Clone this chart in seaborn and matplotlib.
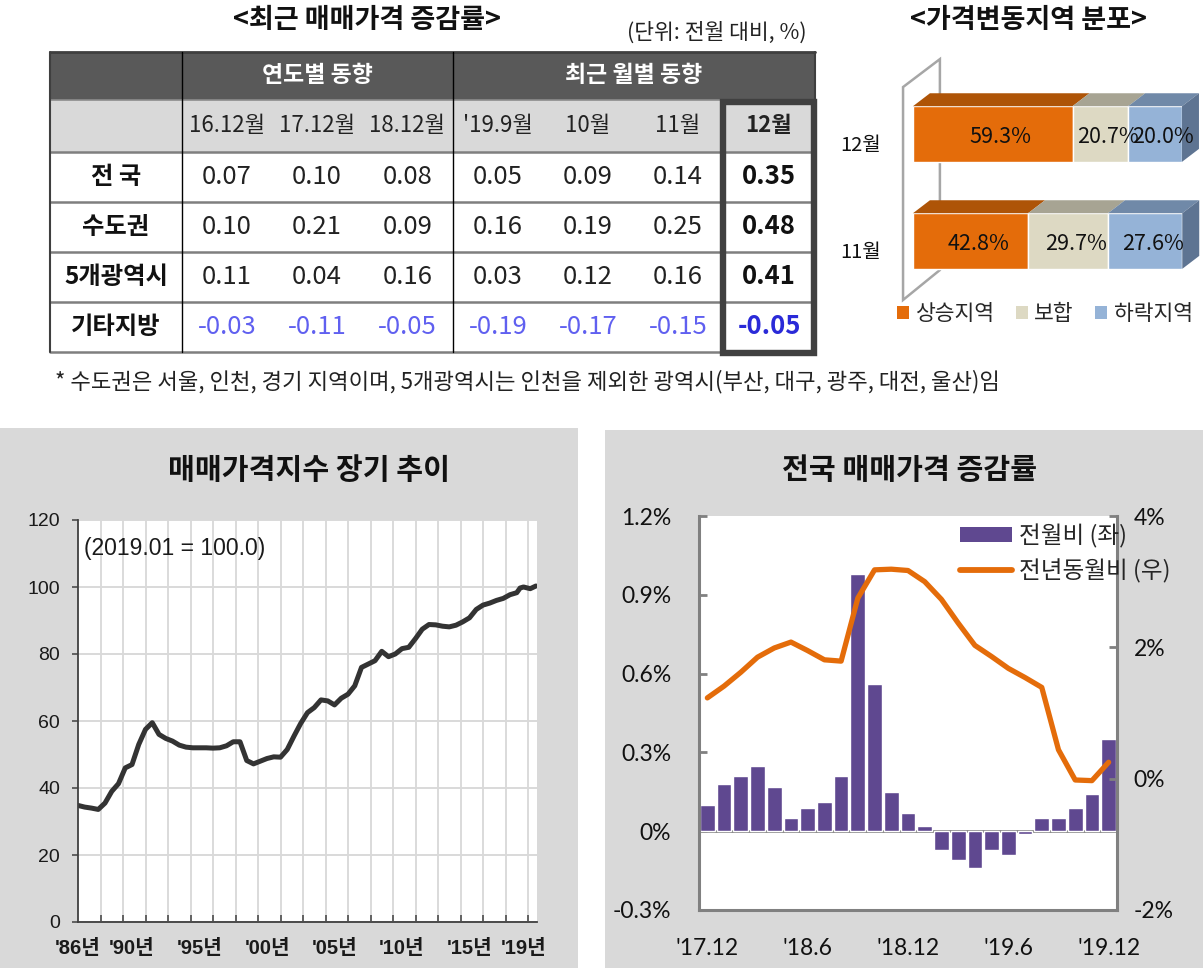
import numpy as np
import pandas as pd
import matplotlib
matplotlib.use("Agg")
import matplotlib.pyplot as plt
from matplotlib.patches import Rectangle, Polygon, Patch
from matplotlib.lines import Line2D
import seaborn as sns

# ---------------- data ----------------
table_title = "<최근 매매가격 증감률>"
table_unit = "(단위: 전월 대비, %)"
table_groups = ["연도별 동향", "최근 월별 동향"]
table_periods = ["16.12월", "17.12월", "18.12월", "'19.9월", "10월", "11월", "12월"]
table_regions = ["전 국", "수도권", "5개광역시", "기타지방"]
rate_national = [0.07, 0.10, 0.08, 0.05, 0.09, 0.14, 0.35]
rate_capital = [0.10, 0.21, 0.09, 0.16, 0.19, 0.25, 0.48]
rate_metro = [0.11, 0.04, 0.16, 0.03, 0.12, 0.16, 0.41]
rate_other = [-0.03, -0.11, -0.05, -0.19, -0.17, -0.15, -0.05]
table_note = "* 수도권은 서울, 인천, 경기 지역이며, 5개광역시는 인천을 제외한 광역시(부산, 대구, 광주, 대전, 울산)임"

dist_title = "<가격변동지역 분포>"
dist_months = ["11월", "12월"]
dist_rise = [42.8, 59.3]
dist_flat = [29.7, 20.7]
dist_fall = [27.6, 20.0]
dist_names = ["상승지역", "보합", "하락지역"]

index_title = "매매가격지수 장기 추이"
index_note = "(2019.01 = 100.0)"
index_years = [1986.0, 1986.5, 1987.0, 1987.5, 1988.0, 1988.5, 1989.0, 1989.5,
               1990.0, 1990.5, 1991.0, 1991.5, 1992.0, 1992.5, 1993.0, 1993.5,
               1994.0, 1994.5, 1995.0, 1995.5, 1996.0, 1996.5, 1997.0, 1997.5,
               1998.0, 1998.5, 1999.0, 1999.5, 2000.0, 2000.5, 2001.0, 2001.5,
               2002.0, 2002.5, 2003.0, 2003.5, 2004.0, 2004.5, 2005.0, 2005.5,
               2006.0, 2006.5, 2007.0, 2007.5, 2008.0, 2008.5, 2009.0, 2009.5,
               2010.0, 2010.5, 2011.0, 2011.5, 2012.0, 2012.5, 2013.0, 2013.5,
               2014.0, 2014.5, 2015.0, 2015.5, 2016.0, 2016.5, 2017.0, 2017.5,
               2018.0, 2018.5, 2018.75, 2019.0, 2019.5, 2019.92]
index_values = [34.8, 34.3, 34.0, 33.6, 35.5, 39.0, 41.3, 46.0,
                47.0, 53.0, 57.5, 59.5, 56.0, 54.8, 54.0, 52.8,
                52.2, 52.0, 52.0, 52.0, 51.9, 52.0, 52.6, 53.8,
                53.8, 48.2, 47.2, 48.0, 48.8, 49.3, 49.2, 51.5,
                55.5, 59.3, 62.5, 64.0, 66.3, 66.0, 64.8, 66.8,
                68.0, 70.5, 76.0, 77.0, 78.0, 80.8, 79.2, 80.0,
                81.6, 82.0, 84.6, 87.4, 88.8, 88.7, 88.3, 88.1,
                88.6, 89.6, 90.8, 93.3, 94.6, 95.2, 96.0, 96.6,
                97.7, 98.3, 99.7, 100.0, 99.5, 100.3]
index_tick_years = [1986, 1990, 1995, 2000, 2005, 2010, 2015, 2019]
index_tick_labels = ["'86년", "'90년", "'95년", "'00년", "'05년", "'10년", "'15년", "'19년"]

rate_title = "전국 매매가격 증감률"
rate_months = ["'17.12", "'18.1", "'18.2", "'18.3", "'18.4", "'18.5", "'18.6",
               "'18.7", "'18.8", "'18.9", "'18.10", "'18.11", "'18.12",
               "'19.1", "'19.2", "'19.3", "'19.4", "'19.5", "'19.6",
               "'19.7", "'19.8", "'19.9", "'19.10", "'19.11", "'19.12"]
rate_mom = [0.10, 0.18, 0.21, 0.25, 0.17, 0.05, 0.09, 0.11, 0.21, 0.98, 0.56, 0.15, 0.07,
            0.02, -0.07, -0.11, -0.14, -0.07, -0.09, -0.01, 0.05, 0.05, 0.09, 0.14, 0.35]
rate_yoy = [1.23, 1.41, 1.62, 1.85, 1.99, 2.08, 1.95, 1.81, 1.79, 2.75, 3.18, 3.19, 3.17,
            3.00, 2.73, 2.37, 2.03, 1.86, 1.68, 1.54, 1.39, 0.44, -0.02, -0.03, 0.25]
rate_tick_months = ["'17.12", "'18.6", "'18.12", "'19.6", "'19.12"]
rate_left_ticks = [-0.3, 0.0, 0.3, 0.6, 0.9, 1.2]
rate_left_labels = ["-0.3%", "0%", "0.3%", "0.6%", "0.9%", "1.2%"]
rate_right_ticks = [-2, 0, 2, 4]
rate_right_labels = ["-2%", "0%", "2%", "4%"]
rate_legend = ["전월비 (좌)", "전년동월비 (우)"]

# ---------------- setup ----------------
sns.set_theme(style="white")
plt.rcParams["font.family"] = ["Noto Sans CJK KR", "DejaVu Sans"]
plt.rcParams["axes.unicode_minus"] = False

W, H = 1203, 968
fig = plt.figure(figsize=(W / 100, H / 100), dpi=100)
fig.patch.set_facecolor("white")


def box(x0, y0, x1, y1):
    return [x0 / W, 1 - y1 / H, (x1 - x0) / W, (y1 - y0) / H]


def fx(x):
    return x / W


def fy(y):
    return 1 - y / H


KR = ["Noto Sans CJK KR", "DejaVu Sans"]
ARIAL_KR = ["Liberation Sans", "Noto Sans CJK KR"]
LATO = ["Lato", "DejaVu Sans"]

# ---------------- table ----------------
fig.text(fx(367), fy(20), table_title, ha="center", va="center", fontsize=19.5,
         fontweight="bold", family=KR, color="#111111")
fig.text(fx(807), fy(33), table_unit, ha="right", va="center", fontsize=15.5,
         family=KR, color="#222222")

ax_t = fig.add_axes(box(50, 52, 815, 352))
ax_t.set_xlim(0, 765)
ax_t.set_ylim(300, 0)
ax_t.set_axis_off()
col_edges = [0, 132, 222, 312, 403, 493, 583, 673, 765]
row_edges = [0, 48, 100, 150, 200, 250, 300]
ax_t.add_patch(Rectangle((0, row_edges[0]), col_edges[-1], row_edges[1] - row_edges[0],
                         fc="#595959", ec="none", zorder=1))
ax_t.add_patch(Rectangle((0, row_edges[1]), col_edges[-1], row_edges[2] - row_edges[1],
                         fc="#d9d9d9", ec="none", zorder=1))
hdr_y = (row_edges[0] + row_edges[1]) / 2
ax_t.text((col_edges[1] + col_edges[4]) / 2, hdr_y, table_groups[0], ha="center", va="center",
          color="white", fontsize=16.5, fontweight="bold", zorder=4)
ax_t.text((col_edges[4] + col_edges[8]) / 2, hdr_y, table_groups[1], ha="center", va="center",
          color="white", fontsize=16.5, fontweight="bold", zorder=4)
sub_y = (row_edges[1] + row_edges[2]) / 2
for j, p in enumerate(table_periods):
    cx = (col_edges[j + 1] + col_edges[j + 2]) / 2
    ax_t.text(cx, sub_y, p, ha="center", va="center", fontsize=16,
              fontweight="bold" if j == 6 else "normal", color="#222222", zorder=4)
rows = [rate_national, rate_capital, rate_metro, rate_other]
for i, (reg, vals) in enumerate(zip(table_regions, rows)):
    cy = (row_edges[i + 2] + row_edges[i + 3]) / 2
    ax_t.text((col_edges[0] + col_edges[1]) / 2, cy, reg, ha="center", va="center",
              fontsize=17.5, fontweight="bold", color="#111111", zorder=4)
    for j, v in enumerate(vals):
        cx = (col_edges[j + 1] + col_edges[j + 2]) / 2
        if j == 6:
            col = "#2a2ad8" if v < 0 else "#111111"
            wt = "bold"
        else:
            col = "#6060f0" if v < 0 else "#222222"
            wt = "normal"
        ax_t.text(cx, cy, f"{v:.2f}", ha="center", va="center", fontsize=18.5,
                  fontweight=wt, color=col, zorder=4)
# grid lines
ax_t.plot([0, col_edges[-1]], [row_edges[0]] * 2, color="#3f3f3f", lw=2, zorder=3, clip_on=False)
ax_t.plot([0, col_edges[-1]], [row_edges[1]] * 2, color="#8c8c8c", lw=1.2, zorder=3, clip_on=False)
for r in row_edges[2:]:
    ax_t.plot([0, col_edges[-1]], [r, r], color="#7f7f7f", lw=1.8, zorder=3, clip_on=False)
ax_t.plot([0, 0], [row_edges[0], row_edges[-1]], color="#3f3f3f", lw=1.5, zorder=3, clip_on=False)
for c in (col_edges[1], col_edges[4]):
    ax_t.plot([c, c], [row_edges[0], row_edges[-1]], color="black", lw=1.0, zorder=3, clip_on=False)
ax_t.plot([col_edges[-1]] * 2, [row_edges[0], row_edges[1]], color="#3f3f3f", lw=1.5, zorder=3,
          clip_on=False)
ax_t.add_patch(Rectangle((col_edges[7] + 0.5, row_edges[1] + 2), col_edges[8] - col_edges[7] - 1,
                         row_edges[-1] - row_edges[1] - 1.5, fill=False, ec="#404040", lw=4.6,
                         zorder=5, clip_on=False))
fig.text(fx(55), fy(382), table_note, ha="left", va="center", fontsize=16, family=KR,
         color="#222222")

# ---------------- 3D stacked bar ----------------
fig.text(fx(1028), fy(20), dist_title, ha="center", va="center", fontsize=19.5,
         fontweight="bold", family=KR, color="#111111")
ax3 = fig.add_axes(box(895, 45, 1203, 305))
ax3.set_xlim(-6.69, 107.8)
ax3.set_ylim(-0.598, 1.832)
ax3.set_axis_off()
dx, dy, bh = 6.3, 0.121, 0.52
ax3.add_patch(Polygon([(-3.7, -0.551), (-3.7, 1.439), (10.0, 1.70), (10.0, -0.271)],
                      closed=True, fill=False, ec="#a6a6a6", lw=1.8, zorder=1))
front = ["#E46C0A", "#DDD9C3", "#95B3D7"]
topc = ["#AE5407", "#A7A493", "#7089A8"]
sidec = "#5E7492"
ypos = np.arange(len(dist_months))
lefts = np.zeros(len(dist_months))
for vals, fc, tc in zip([dist_rise, dist_flat, dist_fall], front, topc):
    ax3.barh(ypos, vals, left=lefts, height=bh, color=fc, zorder=3)
    for y, l, v in zip(ypos, lefts, vals):
        ax3.add_patch(Polygon([(l, y + bh / 2), (l + dx, y + bh / 2 + dy),
                               (l + v + dx, y + bh / 2 + dy), (l + v, y + bh / 2)],
                              closed=True, fc=tc, ec="none", zorder=3))
        ax3.text(l + v / 2 + 3, y - 0.03, f"{v:.1f}%", ha="center", va="center",
                 fontsize=15.5, color="#111111", zorder=6)
    lefts = lefts + np.array(vals)
for y, tot in zip(ypos, lefts):
    ax3.add_patch(Polygon([(tot, y - bh / 2), (tot + dx, y - bh / 2 + dy),
                           (tot + dx, y + bh / 2 + dy), (tot, y + bh / 2)],
                          closed=True, fc=sidec, ec="none", zorder=3))
for y, m in zip(ypos, dist_months):
    ax3.text(-12, y - 0.11, m, ha="right", va="center", fontsize=14.5, color="#111111",
             clip_on=False)
fig.legend(handles=[Patch(fc=c, ec="none", label=n) for c, n in zip(front, dist_names)],
           loc="center", bbox_to_anchor=(fx(1045), fy(314)), ncol=3, frameon=False,
           fontsize=15.5, handlelength=0.55, handleheight=0.55, handletextpad=0.3,
           columnspacing=1.0, borderpad=0, borderaxespad=0)

# ---------------- panel backgrounds ----------------
fig.add_artist(Rectangle((0, 0), fx(578), (968 - 428) / H, transform=fig.transFigure,
                         fc="#d9d9d9", ec="none", zorder=-5))
fig.add_artist(Rectangle((fx(605), 0), fx(1203 - 605), (968 - 430) / H, transform=fig.transFigure,
                         fc="#d9d9d9", ec="none", zorder=-5))

# ---------------- long-term index ----------------
fig.text(fx(309), fy(470), index_title, ha="center", va="center", fontsize=21,
         fontweight="bold", family=KR, color="#111111")
ax_l = fig.add_axes(box(78, 520, 537, 922))
ax_l.set_facecolor("white")
sns.lineplot(x=index_years, y=index_values, ax=ax_l, color="#333333", lw=3.6,
             solid_joinstyle="round", solid_capstyle="round")
ax_l.set_xlim(1986, 2020)
ax_l.set_ylim(0, 120)
ax_l.set_xlabel("")
ax_l.set_ylabel("")
ax_l.set_yticks(np.arange(0, 121, 20))
ax_l.set_xticks(index_tick_years)
ax_l.set_xticklabels(index_tick_labels)
ax_l.set_xticks(1986 + np.arange(0, 21) * 20 / 12, minor=True)
ax_l.grid(which="major", axis="y", color="#d9d9d9", lw=1.4)
ax_l.grid(which="minor", axis="x", color="#d4d4d4", lw=1.2)
ax_l.set_axisbelow(True)
for s in ("top", "right"):
    ax_l.spines[s].set_visible(False)
for s in ("left", "bottom"):
    ax_l.spines[s].set_color("#404040")
    ax_l.spines[s].set_linewidth(1.3)
ax_l.tick_params(axis="y", which="major", direction="out", length=4, width=1.1, color="#404040",
                 pad=9, left=True)
ax_l.tick_params(axis="x", which="major", length=0, pad=12)
ax_l.tick_params(axis="x", which="minor", direction="in", length=5, width=1.1, color="#404040",
                 bottom=True)
for t in ax_l.get_yticklabels():
    t.set_family(ARIAL_KR)
    t.set_fontsize(14)
    t.set_color("#1a1a1a")
for t in ax_l.get_xticklabels():
    t.set_family(ARIAL_KR)
    t.set_fontsize(14.5)
    t.set_fontweight("bold")
    t.set_color("#1a1a1a")
ax_l.text(0.012, 0.93, index_note, transform=ax_l.transAxes, ha="left", va="center",
          fontsize=16.5, family=ARIAL_KR, color="#1a1a1a")

# ---------------- monthly rates ----------------
fig.text(fx(910), fy(470), rate_title, ha="center", va="center", fontsize=21,
         fontweight="bold", family=KR, color="#111111")
ax_r = fig.add_axes(box(699, 516, 1117, 910))
ax_r.set_facecolor("white")
bar_color = "#5f4890"
line_color = "#E46C0A"
ax_r.axhline(0, color="#808080", lw=2, zorder=0.5)
sns.barplot(x=rate_months, y=rate_mom, ax=ax_r, color=bar_color, saturation=1, width=0.88,
            zorder=2)
ax_r.set_ylim(-0.3, 1.2)
ax_r.set_xlim(-0.5, len(rate_months) - 0.5)
ax_r.set_yticks(rate_left_ticks)
ax_r.set_yticklabels(rate_left_labels)
tick_pos = [rate_months.index(m) for m in rate_tick_months]
ax_r.set_xticks(tick_pos)
ax_r.set_xticklabels(rate_tick_months)
ax_r.set_xlabel("")
ax_r.set_ylabel("")
ax_r2 = ax_r.twinx()
sns.lineplot(x=np.arange(len(rate_months)), y=rate_yoy, ax=ax_r2, color=line_color, lw=3.8,
             solid_joinstyle="round", solid_capstyle="round")
ax_r2.set_ylim(-2, 4)
ax_r2.set_yticks(rate_right_ticks)
ax_r2.set_yticklabels(rate_right_labels)
ax_r2.set_ylabel("")
ax_r.set_xlim(-0.5, len(rate_months) - 0.5)
for a in (ax_r, ax_r2):
    a.spines["top"].set_visible(False)
ax_r.spines["right"].set_visible(False)
for s in ("left", "bottom"):
    ax_r.spines[s].set_color("#808080")
    ax_r.spines[s].set_linewidth(2.2)
for s in ("left", "bottom"):
    ax_r2.spines[s].set_visible(False)
ax_r2.spines["right"].set_color("#808080")
ax_r2.spines["right"].set_linewidth(2.2)
ax_r.tick_params(axis="y", direction="in", length=6, width=2, color="#808080", pad=20, left=True)
ax_r.tick_params(axis="x", length=0, pad=20)
ax_r2.tick_params(axis="y", direction="in", length=6, width=2, color="#808080", pad=12, right=True)
for t in ax_r.get_yticklabels() + ax_r.get_xticklabels() + ax_r2.get_yticklabels():
    t.set_family(LATO)
    t.set_fontsize(16.5)
    t.set_color("#111111")
ax_r2.legend(handles=[Patch(fc=bar_color, ec="none", label=rate_legend[0]),
                      Line2D([], [], color=line_color, lw=4.2, solid_capstyle="round",
                             label=rate_legend[1])],
             loc="upper left", bbox_to_anchor=(fx(960), fy(524)),
             bbox_transform=fig.transFigure, frameon=False, fontsize=17, handlelength=2.2,
             handleheight=0.6, handletextpad=0.3, labelspacing=0.45, borderpad=0,
             borderaxespad=0)

fig.savefig("out.png", dpi=100)
